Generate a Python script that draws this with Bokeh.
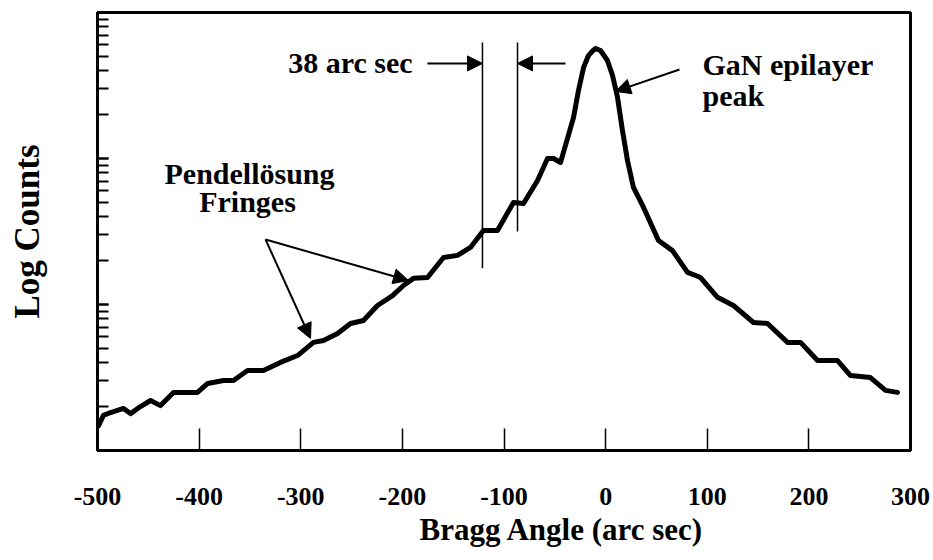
from bokeh.plotting import figure
from bokeh.models import Arrow, NormalHead, FixedTicker, LogTicker, CustomJSTickFormatter, ColumnDataSource, Title
from bokeh.core.properties import value
from bokeh.embed import file_html
from bokeh.resources import INLINE

# ---- data (Bragg angle in arc sec, counts in arbitrary log units) ----
angle = [-499.0, -494.1, -487.2, -474.4, -467.5, -457.7, -447.8, -438.0, -425.2, -413.4,
         -401.6, -391.6, -376.0, -366.2, -352.4, -336.7, -320.0, -303.2, -287.5, -277.6,
         -263.8, -251.0, -238.3, -224.5, -209.7, -198.9, -189.1, -175.3, -159.5, -145.8,
         -133.0, -120.2, -106.4, -90.7, -80.8, -67.0, -57.2, -51.3, -44.4, -39.5,
         -31.6, -26.7, -21.7, -16.9, -12.9, -9.9, -5.0, 1.8, 6.8, 11.7, 16.6,
         21.5, 27.4, 37.3, 52.0, 65.8, 80.6, 93.4, 110.1, 125.8, 145.5,
         159.3, 179.0, 191.8, 208.5, 228.2, 241.0, 260.6, 275.4, 287.2]
counts = [1.48, 1.74, 1.82, 1.94, 1.79, 2.00, 2.20, 2.03, 2.50, 2.50,
          2.50, 2.88, 3.02, 3.02, 3.53, 3.53, 4.01, 4.47, 5.50, 5.67,
          6.33, 7.41, 7.77, 9.84, 11.5, 13.5, 15.1, 15.3, 21.0, 21.7,
          24.6, 32.1, 32.1, 50.0, 49.2, 70.7, 100, 100, 93.9, 123,
          191, 292, 420, 507, 545, 567, 549, 469, 370, 262, 155,
          96.9, 63.3, 46.2, 27.4, 23.4, 16.6, 15.3, 11.2, 9.84, 7.53,
          7.41, 5.50, 5.50, 4.13, 4.13, 3.26, 3.16, 2.58, 2.50]
x_ticks = [-500, -400, -300, -200, -100, 0, 100, 200, 300]
x_tick_labels = ["-500", "-400", "-300", "-200", "-100", "0", "100", "200", "300"]

FONT = "Liberation Serif"

p = figure(width=930, height=556, x_range=(-500, 300), y_range=(1, 1000),
           y_axis_type="log", output_backend="svg", toolbar_location=None,
           min_border_left=97, min_border_right=20, min_border_top=12, min_border_bottom=106)

p.background_fill_color = "white"
p.border_fill_color = "white"
p.outline_line_color = "black"
p.outline_line_width = 3
p.xgrid.visible = False
p.ygrid.visible = False

# x axis
xa = p.xaxis[0]
xa.ticker = FixedTicker(ticks=x_ticks)
xa.major_label_overrides = dict(zip(x_ticks, x_tick_labels))
xa.major_tick_in = 22
xa.major_tick_out = 0
xa.minor_tick_line_color = None
xa.major_tick_line_width = 1.5
xa.axis_line_width = 3
xa.major_label_text_font = FONT
xa.major_label_text_font_style = "bold"
xa.major_label_text_font_size = "26px"
xa.major_label_text_color = "black"
xa.major_label_standoff = 37

p.add_layout(Title(text="Bragg Angle (arc sec)", align="left", offset=322,
                   vertical_align="top", standoff=8,
                   text_font=FONT, text_font_style="bold", text_font_size="31px",
                   text_color="black"), "below")

# y axis (log, no numbers)
ya = p.yaxis[0]
ya.ticker = LogTicker(num_minor_ticks=10)
ya.formatter = CustomJSTickFormatter(code="return ''")
ya.major_tick_in = 11
ya.major_tick_out = 0
ya.minor_tick_in = 11
ya.minor_tick_out = 0
ya.major_tick_line_width = 2
ya.minor_tick_line_width = 2
ya.axis_line_width = 3
ya.major_label_standoff = 0
ya.axis_label = "Log Counts"
ya.axis_label_text_font = FONT
ya.axis_label_text_font_style = "bold"
ya.axis_label_text_font_size = "35px"
ya.axis_label_text_color = "black"
ya.axis_label_standoff = 51

# the scan
p.line(angle, counts, line_width=5, line_color="black", line_join="round", line_cap="round")

# 38 arc sec markers
p.segment(x0=[-121.2, -86.7], y0=[17.7, 31.6], x1=[-121.2, -86.7], y1=[624, 624],
          line_color="black", line_width=1.5)

def arrow(xs, ys, xe, ye, w=2, size=15):
    p.add_layout(Arrow(end=NormalHead(size=size, fill_color="black", line_color="black"),
                       x_start=xs, y_start=ys, x_end=xe, y_end=ye,
                       line_color="black", line_width=w))

arrow(-175.3, 448, -121.2, 448)
arrow(-39.5, 448, -86.7, 448)
arrow(72.7, 407, 9.7, 288)
arrow(-334.7, 27.9, -194.0, 14.6)
arrow(-334.7, 27.9, -290.4, 5.85)

ann = ColumnDataSource(dict(
    x=[-190.0, 95.3, 95.3],
    y=[455, 440, 270],
    t=["38 arc sec", "GaN epilayer", "peak"],
    a=["right", "left", "left"],
))
p.text(x="x", y="y", text="t", text_align="a", text_baseline="middle", source=ann,
       text_font=value(FONT), text_font_style="bold", text_font_size="30px", text_color="black")

ann2 = ColumnDataSource(dict(
    x=[-350.4, -352.4],
    y=[78.9, 50.8],
    t=["Pendellösung", "Fringes"],
))
p.text(x="x", y="y", text="t", text_align="center", text_baseline="middle", source=ann2,
       text_font=value(FONT), text_font_style="bold", text_font_size="30px", text_color="black")

open("out.html", "w").write(file_html(p, INLINE))
